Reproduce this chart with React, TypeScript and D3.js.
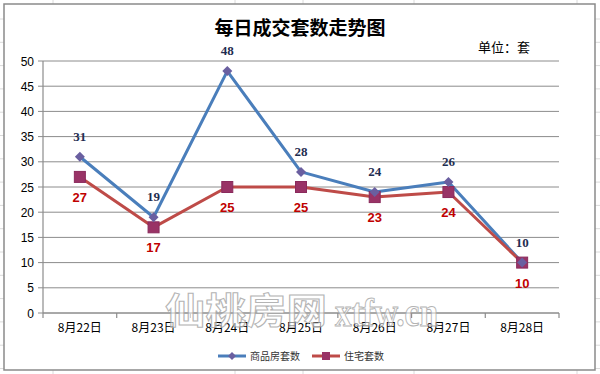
import React from "react";
import * as d3 from "d3";

const categories = ["8月22日", "8月23日", "8月24日", "8月25日", "8月26日", "8月27日", "8月28日"];
const seriesNames = ["商品房套数", "住宅套数"];
const commercial = [31, 19, 48, 28, 24, 26, 10];
const residential = [27, 17, 25, 25, 23, 24, 10];
const yTicks = [0, 5, 10, 15, 20, 25, 30, 35, 40, 45, 50];
const title = "每日成交套数走势图";
const unitLabel = "单位：套";

const W = 600;
const H = 374;
const plot = { left: 43, right: 559, top: 61, bottom: 313 };

const BLUE = "#4a7ebb";
const RED = "#be4b48";
const CJK = "'Noto Sans CJK SC', 'Noto Sans', sans-serif";

export default function App() {
  const x = d3.scaleBand<string>().domain(categories).range([plot.left, plot.right]);
  const y = d3.scaleLinear().domain([0, 50]).range([plot.bottom, plot.top]);
  const cx = (c: string) => (x(c) as number) + x.bandwidth() / 2;

  const line = d3
    .line<number>()
    .x((_, i) => cx(categories[i]))
    .y((d) => y(d));

  const bgCols = [53, 235, 303, 414, 577];
  const bgRows = d3.range(19, H, 23.3);

  const boundaries = categories.map((c) => x(c) as number).concat([plot.right]);

  return (
    <div style={{ position: "absolute", left: 0, top: 0 }}>
      <svg width={W} height={H} style={{ display: "block" }}>
        <rect x={0} y={0} width={W} height={H} fill="#ffffff" />
        {bgCols.map((c) => (
          <line key={"bc" + c} x1={c} x2={c} y1={0} y2={H} stroke="#dadada" strokeWidth={1} />
        ))}
        {bgRows.map((r) => (
          <line key={"br" + r} x1={0} x2={W} y1={r} y2={r} stroke="#dadada" strokeWidth={1} />
        ))}
        {/* chart frame */}
        <rect x={4} y={4} width={591} height={366} fill="#ffffff" stroke="#8a8a8a" strokeWidth={1.5} />

        {/* title */}
        <text x={300} y={35} textAnchor="middle" fontFamily={CJK} fontWeight="bold" fontSize={19} fill="#000">
          {title}
        </text>
        <text x={478} y={52} fontFamily={CJK} fontSize={13} fill="#000">
          {unitLabel}
        </text>

        {/* gridlines */}
        {yTicks.map((t) => (
          <g key={"g" + t}>
            <line x1={plot.left - 5} x2={plot.right} y1={y(t)} y2={y(t)} stroke="#8c8c8c" strokeWidth={1} />
            <text
              x={34}
              y={y(t) + 4.5}
              textAnchor="end"
              fontFamily="'Liberation Sans', Arial, sans-serif"
              fontSize={12}
              fill="#000"
            >
              {t}
            </text>
          </g>
        ))}
        {/* axes */}
        <line x1={plot.left} x2={plot.left} y1={plot.top} y2={plot.bottom} stroke="#8c8c8c" strokeWidth={1.2} />
        <line x1={plot.left} x2={plot.right} y1={plot.bottom} y2={plot.bottom} stroke="#8c8c8c" strokeWidth={1.2} />
        {boundaries.map((b, i) => (
          <line key={"t" + i} x1={b} x2={b} y1={plot.bottom} y2={plot.bottom + 5} stroke="#8c8c8c" strokeWidth={1.2} />
        ))}
        {categories.map((c) => (
          <text key={"x" + c} x={cx(c)} y={332} textAnchor="middle" fontFamily={CJK} fontSize={12} fill="#000">
            {c}
          </text>
        ))}

        {/* lines */}
        <path d={line(commercial) || ""} fill="none" stroke={BLUE} strokeWidth={3} strokeLinejoin="round" />
        <path d={line(residential) || ""} fill="none" stroke={RED} strokeWidth={3} strokeLinejoin="round" />

        {/* markers */}
        {residential.map((v, i) => (
          <rect
            key={"sq" + i}
            x={cx(categories[i]) - 5.5}
            y={y(v) - 5.5}
            width={11}
            height={11}
            fill="#993366"
            stroke="#8a2a5c"
            strokeWidth={1}
          />
        ))}
        {commercial.map((v, i) => {
          const px = cx(categories[i]);
          const py = y(v);
          return (
            <path
              key={"dm" + i}
              d={`M${px},${py - 5}L${px + 5},${py}L${px},${py + 5}L${px - 5},${py}Z`}
              fill="#6a5fa0"
            />
          );
        })}

        {/* data labels */}
        {commercial.map((v, i) => (
          <text
            key={"lb" + i}
            x={cx(categories[i])}
            y={y(v) - 16}
            textAnchor="middle"
            fontFamily="'Liberation Serif', 'DejaVu Serif', serif"
            fontWeight="bold"
            fontSize={13}
            fill="#1f2d50"
          >
            {v}
          </text>
        ))}
        {residential.map((v, i) => (
          <text
            key={"lr" + i}
            x={cx(categories[i])}
            y={y(v) + 25}
            textAnchor="middle"
            fontFamily="'Liberation Sans', Arial, sans-serif"
            fontWeight="bold"
            fontSize={13}
            fill="#c00000"
          >
            {v}
          </text>
        ))}

        {/* legend */}
        <g>
          <line x1={218} x2={246} y1={356} y2={356} stroke={BLUE} strokeWidth={3} />
          <path d="M232,352L236,356L232,360L228,356Z" fill="#6a5fa0" />
          <text x={250} y={359.5} fontFamily={CJK} fontSize={10} fill="#333">
            {seriesNames[0]}
          </text>
          <line x1={312} x2={340} y1={356} y2={356} stroke={RED} strokeWidth={3} />
          <rect x={322} y={352} width={8} height={8} fill="#993366" />
          <text x={344} y={359.5} fontFamily={CJK} fontSize={10} fill="#333">
            {seriesNames[1]}
          </text>
        </g>

        {/* watermark */}
        <g opacity={0.85}>
          <text
            x={165}
            y={324}
            fontFamily={CJK}
            fontWeight="bold"
            fontSize={36}
            textLength={162}
            lengthAdjust="spacingAndGlyphs"
            fill="#ffffff"
            fillOpacity={0.7}
            stroke="#a8a8a8"
            strokeWidth={1}
          >
            仙桃房网
          </text>
          <text
            x={335}
            y={326}
            fontFamily="'Liberation Serif', serif"
            fontWeight="bold"
            fontSize={40}
            textLength={103}
            lengthAdjust="spacingAndGlyphs"
            fill="#ffffff"
            fillOpacity={0.7}
            stroke="#a8a8a8"
            strokeWidth={1}
          >
            xtfw.cn
          </text>
        </g>
      </svg>
    </div>
  );
}
